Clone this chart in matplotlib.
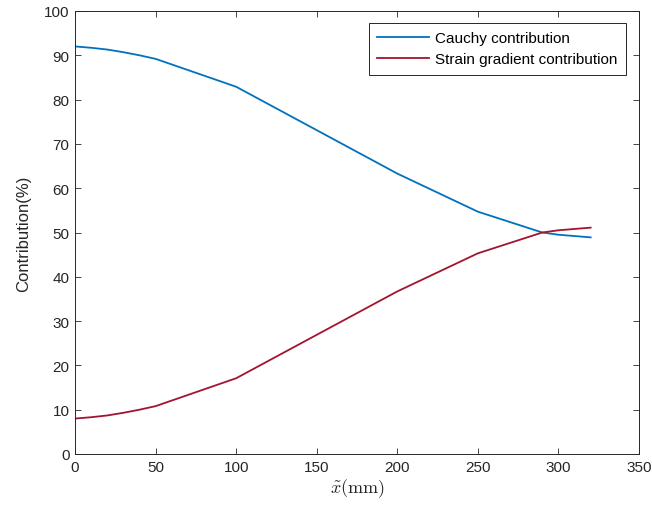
import matplotlib
matplotlib.use("Agg")
import matplotlib.pyplot as plt

# Position along the beam (mm)
x_mm = [0, 10, 20, 30, 40, 50, 100, 150, 200, 250, 290, 300, 320]
# Share of each stress contribution (%)
cauchy = [92.0, 91.7, 91.3, 90.7, 90.0, 89.2, 82.9, 73.1, 63.3, 54.7, 50.0, 49.5, 48.9]
strain_gradient = [8.0, 8.3, 8.7, 9.3, 10.0, 10.8, 17.1, 26.9, 36.7, 45.3, 50.0, 50.5, 51.1]

x_ticks = [0, 50, 100, 150, 200, 250, 300, 350]
y_ticks = [0, 10, 20, 30, 40, 50, 60, 70, 80, 90, 100]

plt.rcParams['font.family'] = ['Liberation Sans', 'DejaVu Sans']
plt.rcParams['mathtext.fontset'] = 'cm'

fig = plt.figure(figsize=(6.52, 5.10), dpi=100)
ax = fig.add_axes([75 / 652, 1 - 455 / 510, 564 / 652, 443 / 510])

ax.plot(x_mm, cauchy, color='#0072BD', lw=1.3, label='Cauchy contribution')
ax.plot(x_mm, strain_gradient, color='#A2142F', lw=1.3, label='Strain gradient contribution')

ax.set_xlim(0, 350)
ax.set_ylim(0, 100)
ax.set_xticks(x_ticks)
ax.set_yticks(y_ticks)
ax.tick_params(direction='in', top=True, right=True, length=4, width=0.6,
               labelsize=11, colors='#262626', pad=4)
for s in ax.spines.values():
    s.set_color('#262626')
    s.set_linewidth(0.7)

ax.set_xlabel(r'$\tilde{x}(\mathrm{mm})$', fontsize=13, color='#262626', labelpad=2)
ax.set_ylabel('Contribution(%)', fontsize=12, color='#262626', labelpad=9)

leg = ax.legend(loc='upper right', bbox_to_anchor=(0.977, 0.973), fontsize=11,
                fancybox=False, framealpha=1, edgecolor='#262626',
                handlelength=3.4, handletextpad=0.4, borderpad=0.55,
                labelspacing=0.45, borderaxespad=0)
leg.get_frame().set_linewidth(0.7)

fig.savefig('out.png', dpi=100)
